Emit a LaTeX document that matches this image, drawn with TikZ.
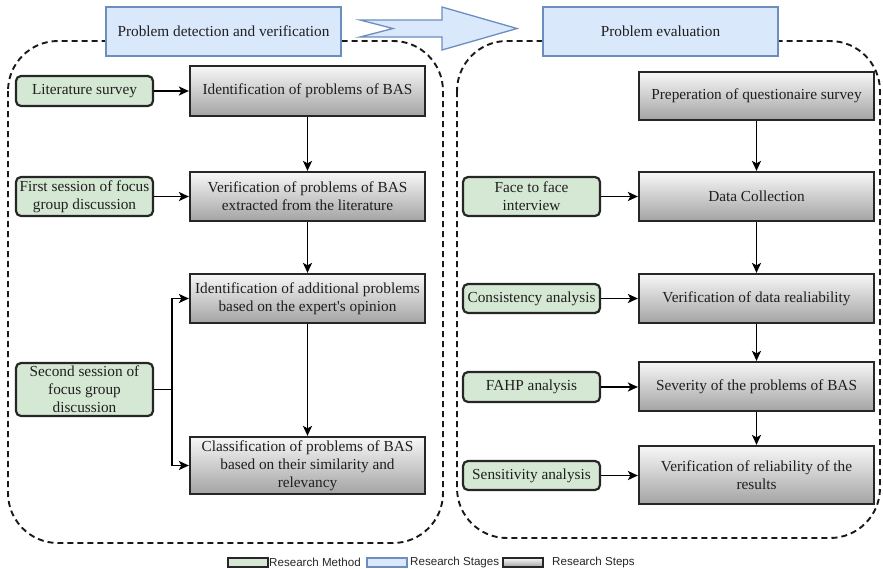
\documentclass[tikz,border=0pt]{standalone}
\usepackage{fontspec}
\setmainfont{Liberation Serif}
\newfontfamily\nomapserif{Liberation Serif}
\newfontfamily\legfont{Liberation Sans}
\usetikzlibrary{arrows.meta}
\definecolor{stagefill}{HTML}{DAE8FC}
\definecolor{stageline}{HTML}{6C8EBF}
\definecolor{methfill}{HTML}{D5E8D4}
\definecolor{boxline}{HTML}{262626}
\newcommand{\sq}{{\nomapserif\char"0027}}
\begin{document}
\begin{tikzpicture}[x=1pt,y=-1pt,
  txt/.style={font=\fontsize{15.3}{18}\selectfont, text=black!88, align=center, inner sep=0pt},
  stepbox/.style={txt, draw=boxline, line width=2.2pt, top color=black!3, bottom color=black!36, minimum width=235pt},
  methbox/.style={txt, draw=boxline, line width=2.2pt, fill=methfill, rounded corners=5pt, minimum width=137pt},
  stagebox/.style={txt, draw=stageline, line width=1.3pt, fill=stagefill, minimum width=235pt, minimum height=49pt},
  region/.style={draw=black!90, line width=1.9pt, dash pattern=on 6pt off 4pt, rounded corners=50pt},
  arr/.style={draw=black, line width=1.9pt, -{Stealth[length=10pt,width=9pt,inset=2.5pt]}},
  legbox/.style={line width=1.5pt, minimum width=40pt, minimum height=9pt, inner sep=0pt},
  legtxt/.style={font=\legfont\fontsize{11.6}{13}\selectfont, text=black!85, anchor=west, inner sep=0pt}
]
\useasboundingbox (0,0) rectangle (883,568);

% dashed regions
\draw[region] (8,41) rectangle (443,543);
\draw[region] (457,41) rectangle (880,538);

% stage arrow
\draw[stageline, line width=1.3pt, fill=stagefill]
  (360,20) -- (442,20) -- (442,7) -- (517,28.5) -- (442,50) -- (442,37) -- (360,37) -- (393,28.5) -- cycle;

% stages
\node[stagebox] (st1) at (223.5,31.5) {Problem detection and verification};
\node[stagebox] (st2) at (660.5,31.5) {Problem evaluation};

% left steps
\node[stepbox, minimum height=50pt] (s1) at (307.5,91) {Identification of problems of BAS};
\node[stepbox, minimum height=49pt] (s2) at (307.5,196.5) {Verification of problems of BAS\\extracted from the literature};
\node[stepbox, minimum height=49pt] (s3) at (307.5,298.5) {Identification of additional problems\\based on the expert\sq s opinion};
\node[stepbox, minimum height=57pt] (s4) at (307.5,465.5) {Classification of problems of BAS\\based on their similarity and\\relevancy};

% left methods
\node[methbox, minimum height=30pt] (m1) at (84.5,91) {Literature survey};
\node[methbox, minimum height=39pt] (m2) at (84.5,196.5) {First session of focus\\group discussion};
\node[methbox, minimum height=53pt] (m3) at (84.5,389.5) {Second session of\\focus group\\discussion};

% right steps
\node[stepbox, minimum height=48pt] (r1) at (756.5,96) {Preperation of questionaire survey};
\node[stepbox, minimum height=49pt] (r2) at (756.5,196.5) {Data Collection};
\node[stepbox, minimum height=49pt] (r3) at (756.5,298.5) {Verification of data realiability};
\node[stepbox, minimum height=49pt] (r4) at (756.5,386.5) {Severity of the problems of BAS};
\node[stepbox, minimum height=58pt] (r5) at (756.5,475) {Verification of reliability of the\\results};

% right methods
\node[methbox, minimum height=39pt] (g1) at (531.5,196.5) {Face to face\\interview};
\node[methbox, minimum height=29pt] (g2) at (531.5,298.5) {Consistency analysis};
\node[methbox, minimum height=30pt] (g3) at (531.5,387) {FAHP analysis};
\node[methbox, minimum height=29pt] (g4) at (531.5,475.5) {Sensitivity analysis};

% connectors left
\draw[arr] (m1) -- (s1);
\draw[arr] (m2) -- (s2);
\draw[arr] (s1) -- (s2);
\draw[arr] (s2) -- (s3);
\draw[arr] (s3) -- (s4);
\draw[arr] (m3.east) -- ++(18,0) |- (s3.west);
\draw[arr] (m3.east) -- ++(18,0) |- (s4.west);

% connectors right
\draw[arr] (r1) -- (r2);
\draw[arr] (r2) -- (r3);
\draw[arr] (r3) -- (r4);
\draw[arr] (r4) -- (r5);
\draw[arr] (g1) -- (r2);
\draw[arr] (g2) -- (r3);
\draw[arr] (g3.east) -- (g3.east -| r4.west);
\draw[arr] (g4.east) -- (g4.east -| r5.west);

% legend
\node[legbox, draw=boxline, fill=methfill] (l1) at (248,562.5) {};
\node[legtxt] (lt1) at (269,562.5) {Research Method};
\node[legbox, draw=stageline, fill=stagefill] (l2) at (387,562.5) {};
\node[legtxt] (lt2) at (410,562.5) {Research Stages};
\node[legbox, draw=boxline, top color=black!3, bottom color=black!36] (l3) at (523,562.5) {};
\node[legtxt] (lt3) at (552,562.5) {Research Steps};
\end{tikzpicture}
\end{document}
